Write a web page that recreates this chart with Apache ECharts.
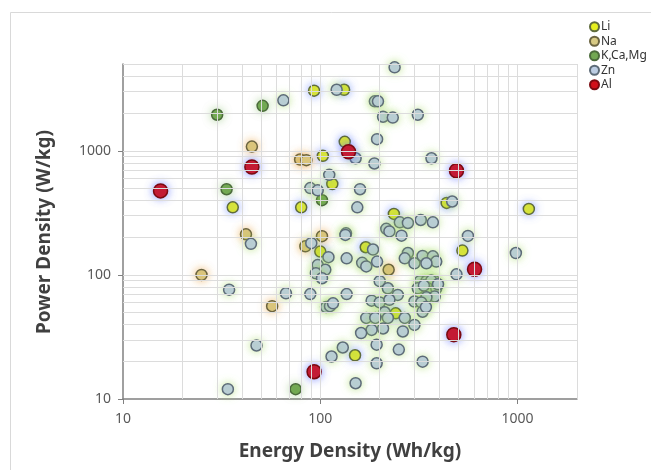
<!DOCTYPE html>
<html>
<head>
<meta charset="utf-8">
<script src="https://cdn.jsdelivr.net/npm/echarts@6/dist/echarts.min.js"></script>
<style>
html,body{margin:0;padding:0;background:#fff;}
#main{width:651px;height:470px;}
</style>
</head>
<body>
<div id="main"></div>
<script>
// [energy density Wh/kg, power density W/kg]
var liData = [[93,3050],[132,3100],[133,1180],[103,910],[115,540],[80,350],[36,350],[437,380],
	[1140,340],[236,310],[170,167],[100,154],[525,157],[241,49],[150,22.5]];
var naData = [[45,1080],[79,850],[85,840],[42,212],[102,205],[84,170],[25,100],[222,110],[57,56]];
var kData = [[30,1950],[51,2300],[33.5,490],[102,400],[75,12]];
var znData = [[65,2550],[44.5,178],[238,4700],[121,3100],[189,2500],[196,2500],[208,1880],[233,1850],
	[312,1950],[151,870],[194,1240],[188,790],[366,870],[111,640],[89,500],[97,480],[159,490],[154,350],
	[466,390],[253,265],[278,262],[323,277],[372,265],[135,216],[216,235],[224,224],[258,207],
	[134,210],[185,160],[136,136],[163,125],[171,117],[194,128],[200,89],[220,78],[247,69],[136,70],
	[182,62],[200,60],[224,63],[212,50],[220,45],[171,45],[190,45],[268,45],[300,39.5],[262,35],
	[208,37],[182,36],[161,34],[130,26],[114,22],[193,27.4],[193,19.4],[250,25],[330,20],[151,13.4],
	[560,206],[490,101],[980,150],
	[278,150],[268,136],[300,124],[330,142],[372,141],[387,128],[345,124],[320,89],[345,89],[380,89],
	[365,90],[312,78],[350,78],[387,78],[335,82],[395,84],[380,67],[345,66],[300,61],[325,60],[330,50.5],[343,55],
	[90,180],[110,139],[97,120],[106,110],[95,103],[102,94],[89,70],[107,55],[112,56],[116,59],
	[34.5,76],[67,71],[47.5,27],[34,12]];
var alData = [[15.5,475],[45,740],[139,980],[490,690],[605,111],[475,33],[93,16.6]];

var seriesNames = ['Li','Na','K,Ca,Mg','Zn','Al'];
var xMajor = [10,100,1000];
var yMajor = [10,100,1000];
var xMinor = [20,30,40,50,60,70,80,90,200,300,400,500,600,700,800,900,2000];
var yMinor = [20,30,40,50,60,70,80,90,200,300,400,500,600,700,800,900,2000,3000,4000,5000];

var font = 'Noto Sans';

function pointSeries(name, data, fill, border, glow, size){
	return {
		name: name,
		type: 'scatter',
		data: data,
		symbol: 'circle',
		symbolSize: size,
		itemStyle: {
			color: fill,
			borderColor: border,
			borderWidth: 1.5,
			opacity: 1,
			shadowBlur: 8,
			shadowColor: glow
		},
		emphasis: {disabled: true}
	};
}

function plainNumber(v){
	return String(Math.round(v));
}

function initChart(){
	var gridX = [];
	xMajor.slice(1).concat(xMinor).forEach(function(v){ gridX.push({xAxis: v}); });
	var gridY = [];
	yMajor.slice(1).concat(yMinor).forEach(function(v){ gridY.push({yAxis: v}); });

	var option = {
		backgroundColor: '#fff',
		animation: false,
		textStyle: {fontFamily: font},
		grid: {left: 123, right: 74, top: 64, bottom: 71},
		legend: {
			orient: 'vertical',
			left: 584,
			top: 15,
			icon: 'circle',
			itemWidth: 9,
			itemHeight: 9,
			itemGap: 1,
			data: seriesNames,
			itemStyle: {shadowBlur: 0},
			textStyle: {fontSize: 12, lineHeight: 13.5, color: '#333', fontFamily: font, padding: [0,0,0,-3]}
		},
		xAxis: [{
			type: 'log',
			logBase: 10,
			min: 10,
			max: 2000,
			axisLine: {lineStyle: {color: '#808080', width: 1.5}},
			axisTick: {show: true, length: 5, customValues: xMajor, lineStyle: {color: '#808080'}},
			axisLabel: {customValues: xMajor, formatter: plainNumber, fontSize: 14, color: '#595959', margin: 13},
			splitLine: {show: false}
		}, {
			type: 'log',
			logBase: 10,
			min: 10,
			max: 2000,
			position: 'bottom',
			axisLine: {show: false},
			axisTick: {show: true, inside: true, length: 3, customValues: xMinor, lineStyle: {color: '#808080'}},
			axisLabel: {show: false},
			splitLine: {show: false}
		}],
		yAxis: [{
			type: 'log',
			logBase: 10,
			min: 10,
			max: 5000,
			axisLine: {show: true, lineStyle: {color: '#808080', width: 1.5}},
			axisTick: {show: true, length: 5, customValues: yMajor, lineStyle: {color: '#808080'}},
			axisLabel: {customValues: yMajor, formatter: plainNumber, fontSize: 14, color: '#595959', margin: 12},
			splitLine: {show: false}
		}, {
			type: 'log',
			logBase: 10,
			min: 10,
			max: 5000,
			position: 'left',
			axisLine: {show: false},
			axisTick: {show: true, inside: true, length: 3, customValues: yMinor, lineStyle: {color: '#808080'}},
			axisLabel: {show: false},
			splitLine: {show: false}
		}],
		graphic: [{
			type: 'rect',
			z: -10,
			shape: {x: 10.5, y: 12.5, width: 700, height: 500},
			style: {fill: 'none', stroke: '#d9d9d9', lineWidth: 1}
		}, {
			type: 'text',
			x: 45,
			y: 232,
			rotation: Math.PI / 2,
			style: {text: 'Power Density (W/kg)', font: 'bold 19px "Noto Sans"', fill: '#404040', align: 'center', verticalAlign: 'middle'}
		}, {
			type: 'text',
			x: 350,
			y: 452,
			style: {text: 'Energy Density (Wh/kg)', font: 'bold 19px "Noto Sans"', fill: '#404040', align: 'center', verticalAlign: 'middle'}
		}],
		series: [
			{
				name: 'grid',
				type: 'scatter',
				data: [],
				silent: true,
				z: 1,
				markLine: {
					silent: true,
					symbol: 'none',
					animation: false,
					label: {show: false},
					lineStyle: {color: '#dcdcdc', width: 1, type: 'solid'},
					emphasis: {disabled: true},
					data: gridX.concat(gridY)
				}
			},
			pointSeries('Li', liData, '#e6f01e', '#5f6b3c', 'rgba(110,140,255,0.7)', 11),
			pointSeries('Na', naData, '#d8ca84', '#6b6440', 'rgba(235,165,70,0.7)', 11),
			pointSeries('K,Ca,Mg', kData, '#72a852', '#4b6b3b', 'rgba(130,190,100,0.5)', 11),
			pointSeries('Zn', znData, '#bccde3', '#5d6b78', 'rgba(160,215,90,0.6)', 11),
			pointSeries('Al', alData, '#d2101a', '#7a0a10', 'rgba(90,110,255,0.7)', 14)
		]
	};

	var myChart = echarts.init(document.getElementById('main'));
	myChart.setOption(option);
}

initChart();
</script>
</body>
</html>
